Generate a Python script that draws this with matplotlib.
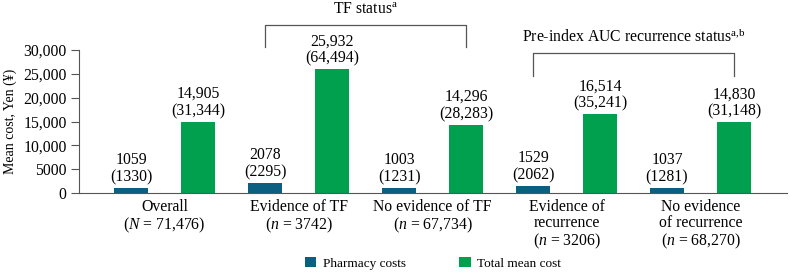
import numpy as np
import matplotlib.pyplot as plt

plt.rcParams['font.family'] = ['Liberation Serif', 'DejaVu Serif']
plt.rcParams['mathtext.fontset'] = 'custom'
plt.rcParams['mathtext.rm'] = 'Liberation Serif'
plt.rcParams['mathtext.it'] = 'Liberation Serif:italic'

categories = ["Overall\n($N$ = 71,476)",
              "Evidence of TF\n($n$ = 3742)",
              "No evidence of TF\n($n$ = 67,734)",
              "Evidence of\nrecurrence\n($n$ = 3206)",
              "No evidence\nof recurrence\n($n$ = 68,270)"]
pharmacy = [1059, 2078, 1003, 1529, 1037]
pharmacy_sd = [1330, 2295, 1231, 2062, 1281]
total = [14905, 25932, 14296, 16514, 14830]
total_sd = [31344, 64494, 28283, 35241, 31148]
yticks = [0, 5000, 10000, 15000, 20000, 25000, 30000]
ytick_labels = ["0", "5000", "10,000", "15,000", "20,000", "25,000", "30,000"]

c_ph = "#0b5f80"
c_tot = "#00a04f"
fs = 11.3

fig = plt.figure(figsize=(7.9, 2.72), dpi=100)
ax = fig.add_axes([0.1, 0.29, 0.896, 0.526])

x = np.arange(len(categories)) * 2
ax.bar(x, pharmacy, width=0.5, color=c_ph, label="Pharmacy costs")
ax.bar(x + 1, total, width=0.5, color=c_tot, label="Total mean cost")

for i in range(len(x)):
    ax.text(x[i], pharmacy[i] + 600, f"{pharmacy[i]}\n({pharmacy_sd[i]})",
            ha="center", va="bottom", fontsize=fs, linespacing=1.1)
    ax.text(x[i] + 1, total[i] + 600, f"{total[i]:,}\n({total_sd[i]:,})",
            ha="center", va="bottom", fontsize=fs, linespacing=1.1)

ax.set_xlim(-0.78, 9.79)
ax.set_ylim(0, 30000)
ax.set_yticks(yticks)
ax.set_yticklabels(ytick_labels, fontsize=fs)
ax.set_xticks(x + 0.5)
ax.set_xticklabels(categories, fontsize=fs, linespacing=1.05, va="top")
ax.tick_params(axis="x", length=0, pad=4)
ax.tick_params(axis="y", length=6, color="#555555", pad=3)
ax.spines["top"].set_visible(False)
ax.spines["right"].set_visible(False)
ax.spines["left"].set_color("#555555")
ax.spines["bottom"].set_color("#555555")
ax.set_ylabel("Mean cost, Yen (\u00a5)", fontsize=10)
ax.yaxis.set_label_coords(-0.088, 0.5)

# brackets
ax.plot([x[1], x[1], x[2] + 1, x[2] + 1], [30600, 35250, 35250, 30600],
        color="#555555", lw=0.9, clip_on=False)
ax.text((x[1] + x[2] + 1) / 2, 36800, "TF status$^{\\mathrm{a}}$", ha="center",
        va="bottom", fontsize=fs)
ax.plot([x[3], x[3], x[4] + 1, x[4] + 1], [24500, 29370, 29370, 24500],
        color="#555555", lw=0.9, clip_on=False)
ax.text((x[3] + x[4] + 1) / 2, 30900, "Pre-index AUC recurrence status$^{\\mathrm{a{,}b}}$",
        ha="center", va="bottom", fontsize=fs)

fig.legend(loc="center", bbox_to_anchor=(0.548, 0.033), ncol=2, frameon=False,
           fontsize=9.5, handlelength=0.9, handleheight=0.9, columnspacing=4.0,
           handletextpad=0.5)

fig.savefig("out.png", dpi=100)
